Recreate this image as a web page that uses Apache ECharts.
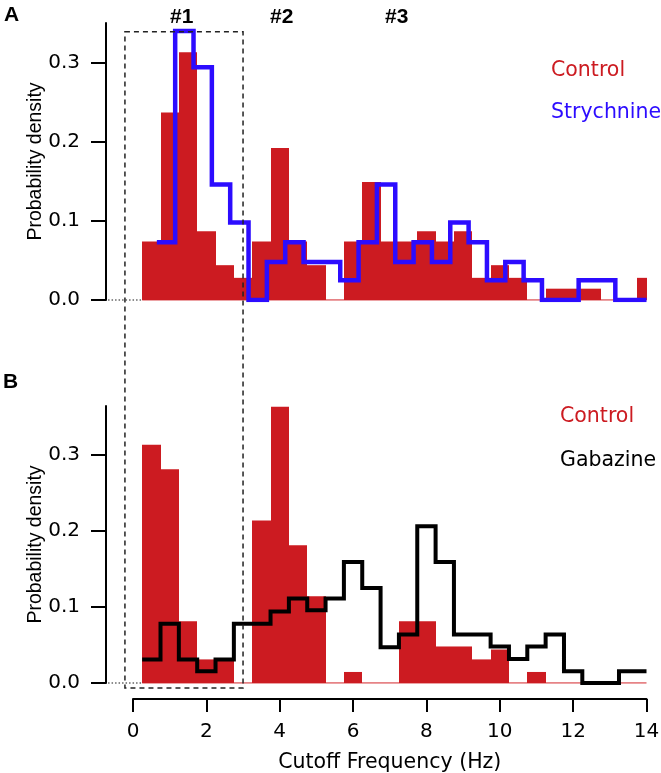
<!DOCTYPE html>
<html><head><meta charset="utf-8">
<script src="https://cdn.jsdelivr.net/npm/echarts@6/dist/echarts.min.js"></script>
<style>html,body{margin:0;padding:0;background:#fff}#c{width:661px;height:773px}</style>
</head><body><div id="c"></div>
<script>
// ---------- data ----------
const binWidth = 0.5;
const controlStart = 0.25;     // first bin edge of Control / Gabazine histograms (Hz)
const strychStart = 0.65;      // first bin edge of Strychnine histogram (Hz)
const xMax = 14;
const controlA = [0.074, 0.237, 0.313, 0.087, 0.044, 0.028, 0.074, 0.192, 0.074, 0.044, 0, 0.074, 0.149, 0.074,
                  0.074, 0.087, 0.074, 0.087, 0.028, 0.044, 0.028, 0, 0.0143, 0.0143, 0.0143, 0, 0, 0.028];
const strychnine = [0.073, 0.34, 0.294, 0.146, 0.098, 0, 0.048, 0.073, 0.048, 0.048, 0.025, 0.073, 0.146, 0.048,
                    0.073, 0.048, 0.098, 0.073, 0.025, 0.048, 0.025, 0, 0, 0.025, 0.025, 0, 0];
const controlB = [0.313, 0.281, 0.081, 0.031, 0.031, 0, 0.2135, 0.363, 0.181, 0.114, 0, 0.0145, 0, 0,
                  0.081, 0.081, 0.048, 0.048, 0.031, 0.044, 0, 0.0145, 0, 0, 0, 0, 0, 0];
const gabazine = [0.031, 0.078, 0.031, 0.0155, 0.031, 0.078, 0.078, 0.094, 0.111, 0.0955, 0.111, 0.159, 0.125, 0.047,
                  0.0636, 0.206, 0.159, 0.0636, 0.0636, 0.048, 0.0316, 0.048, 0.0636, 0.0155, 0, 0, 0.0155, 0.0155];
const xTicks = [0, 2, 4, 6, 8, 10, 12, 14];
const yTicks = [0, 0.1, 0.2, 0.3];
const clusterLabels = ['#1', '#2', '#3'];
const legendA = ['Control', 'Strychnine'];
const legendB = ['Control', 'Gabazine'];
const boxHz = [-0.22, 3.0];          // dashed selection box, x range (Hz)
const boxTopA = 0.339, boxBottomB = -0.0066;
const dottedHz = [-0.68, 0.25];

// ---------- style ----------
const RED = '#cc1b21', BLUE = '#2c0cff', BLACK = '#000';
const SANS = 'DejaVu Sans';
const HELV = 'Liberation Sans';

function bins(start, vals) {
  return vals.map((v, i) => {
    const s = start + i * binWidth;
    return [s, Math.min(s + binWidth, xMax), v];
  });
}
function steps(start, vals) {
  const b = bins(start, vals);
  const pts = b.map(d => [d[0], d[2]]);
  pts.push([b[b.length - 1][1], b[b.length - 1][2]]);
  return pts;
}
function barItem(params, api) {
  const s = api.value(0), e = api.value(1), v = api.value(2);
  const p0 = api.coord([s, v]), p1 = api.coord([e, 0]);
  const x0 = Math.round(p0[0]), x1 = Math.round(p1[0]);
  return {
    type: 'rect',
    shape: { x: x0, y: p0[1], width: x1 - x0, height: p1[1] - p0[1] },
    style: { fill: RED }
  };
}

const chart = echarts.init(document.getElementById('c'), null, { renderer: 'canvas' });

function yAxis(gi, max) {
  return {
    gridIndex: gi, type: 'value', min: 0, max: max, interval: 0.1, offset: 27,
    axisLine: { show: true, onZero: false, lineStyle: { color: BLACK, width: 2 } },
    axisTick: { show: true, length: 15, customValues: yTicks, lineStyle: { color: BLACK, width: 2 } },
    axisLabel: { customValues: yTicks, formatter: v => v.toFixed(1), margin: 26, color: BLACK,
                 fontFamily: SANS, fontSize: 20 },
    splitLine: { show: false },
    name: 'Probability density', nameLocation: 'middle', nameGap: 60, nameMoveOverlap: false,
    nameTextStyle: { fontFamily: HELV, fontSize: 19.5, color: BLACK }
  };
}

const option = {
  animation: false,
  backgroundColor: '#fff',
  grid: [
    { left: 133, right: 14.5, top: 23, height: 277, containLabel: false, outerBoundsMode: 'none' },
    { left: 133, right: 14.5, top: 406, height: 277, containLabel: false, outerBoundsMode: 'none' }
  ],
  xAxis: [
    { gridIndex: 0, type: 'value', min: 0, max: xMax, show: false },
    { gridIndex: 1, type: 'value', min: 0, max: xMax, interval: 2, offset: 16,
      axisLine: { show: true, onZero: false, lineStyle: { color: BLACK, width: 2 } },
      axisTick: { show: true, length: 13, customValues: xTicks, lineStyle: { color: BLACK, width: 2 } },
      axisLabel: { customValues: xTicks, margin: 23, color: BLACK, fontFamily: SANS, fontSize: 20 },
      splitLine: { show: false },
      name: 'Cutoff Frequency (Hz)', nameLocation: 'middle', nameGap: 53, nameMoveOverlap: false,
      nameTextStyle: { fontFamily: SANS, fontSize: 20.5, color: BLACK } }
  ],
  yAxis: [yAxis(0, 0.35), yAxis(1, 0.364)],
  series: [
    { type: 'line', xAxisIndex: 0, yAxisIndex: 0, symbol: 'none', silent: true,
      data: [[controlStart, 0], [xMax, 0]], lineStyle: { color: '#de5a5e', width: 1.5 }, z: 1 },
    { type: 'custom', name: 'Control A', xAxisIndex: 0, yAxisIndex: 0, renderItem: barItem,
      encode: { x: [0, 1], y: 2 }, data: bins(controlStart, controlA), z: 2 },
    { type: 'line', name: 'Strychnine', xAxisIndex: 0, yAxisIndex: 0, step: 'end', showSymbol: false,
      symbol: 'none', data: steps(strychStart, strychnine), lineStyle: { color: BLUE, width: 4.5, join: 'miter' }, z: 3 },

    { type: 'line', xAxisIndex: 1, yAxisIndex: 1, symbol: 'none', silent: true,
      data: [[controlStart, 0], [xMax, 0]], lineStyle: { color: '#de5a5e', width: 1.5 }, z: 1 },
    { type: 'custom', name: 'Control B', xAxisIndex: 1, yAxisIndex: 1, renderItem: barItem,
      encode: { x: [0, 1], y: 2 }, data: bins(controlStart, controlB), z: 2 },
    { type: 'line', name: 'Gabazine', xAxisIndex: 1, yAxisIndex: 1, step: 'end', showSymbol: false,
      symbol: 'none', data: steps(controlStart, gabazine), lineStyle: { color: BLACK, width: 4, join: 'miter' }, z: 3 }
  ]
};
chart.setOption(option);

// annotations (placed through the chart's own coordinate conversion)
const tl = chart.convertToPixel({ gridIndex: 0 }, [boxHz[0], boxTopA]);
const br = chart.convertToPixel({ gridIndex: 1 }, [boxHz[1], boxBottomB]);
function dotted(gi) {
  const a = chart.convertToPixel({ gridIndex: gi }, [dottedHz[0], 0]);
  const b = chart.convertToPixel({ gridIndex: gi }, [dottedHz[1], 0]);
  return { type: 'line', z: 5, shape: { x1: a[0], y1: a[1], x2: b[0], y2: b[1] },
           style: { stroke: '#666', lineWidth: 1.5, lineDash: [1.5, 2] } };
}
function txt(text, x, y, color, size, family, weight, sx) {
  return { type: 'text', x: x, y: y, scaleX: sx || 1, z: 20,
           style: { text: text, fill: color, fontSize: size, fontFamily: family, fontWeight: weight || 'normal',
                    verticalAlign: 'middle', textVerticalAlign: 'middle' } };
}
const clusterX = [170, 270, 385];
chart.setOption({
  graphic: [
    { type: 'rect', z: 30, shape: { x: tl[0], y: tl[1], width: br[0] - tl[0], height: br[1] - tl[1] },
      style: { fill: 'none', stroke: '#222', lineWidth: 1.5, lineDash: [5, 4] } },
    dotted(0), dotted(1),
    txt('A', 4, 15, BLACK, 21, HELV, 'bold'),
    txt('B', 3, 382, BLACK, 21, HELV, 'bold'),
    ...clusterLabels.map((t, i) => txt(t, clusterX[i], 17, BLACK, 20, HELV, 'bold', 1.05)),
    txt(legendA[0], 551, 71, RED, 20.5, SANS),
    txt(legendA[1], 551, 113, BLUE, 20.5, SANS),
    txt(legendB[0], 560, 417, RED, 20.5, SANS),
    txt(legendB[1], 560, 461, BLACK, 20.5, SANS)
  ]
});
</script></body></html>
